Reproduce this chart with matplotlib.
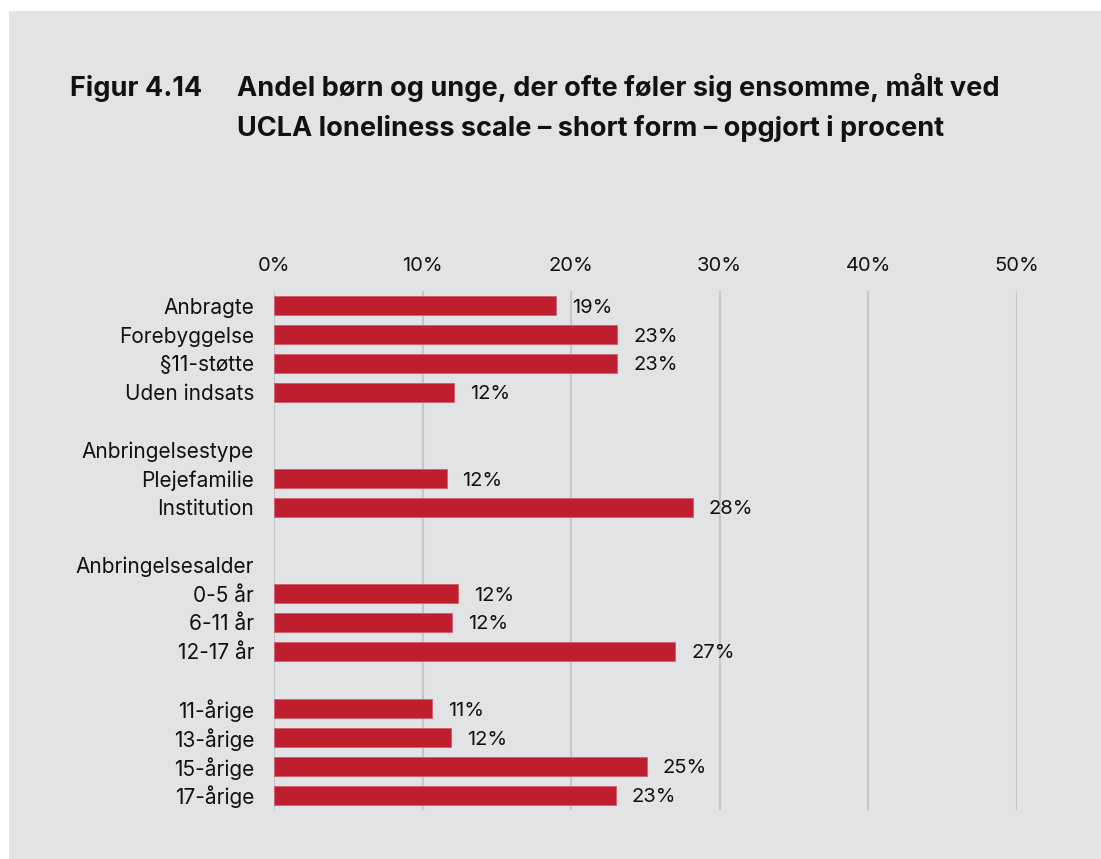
import matplotlib
matplotlib.use("Agg")
import matplotlib.pyplot as plt
from matplotlib.patches import Rectangle

plt.rcParams['font.family'] = ['Inter', 'DejaVu Sans']

# Rows from top to bottom; None marks a spacer or a group heading without a bar
labels = ["Anbragte", "Forebyggelse", "§11-støtte", "Uden indsats", "",
          "Anbringelsestype", "Plejefamilie", "Institution", "",
          "Anbringelsesalder", "0-5 år", "6-11 år", "12-17 år", "",
          "11-årige", "13-årige", "15-årige", "17-årige"]
values = [19.0, 23.1, 23.1, 12.1, None,
          None, 11.6, 28.2, None,
          None, 12.4, 12.0, 27.0, None,
          10.6, 11.9, 25.1, 23.0]
x_ticks = [0, 10, 20, 30, 40, 50]
x_tick_labels = ["0%", "10%", "20%", "30%", "40%", "50%"]

title_num = "Figur 4.14"
title_lines = ["Andel børn og unge, der ofte føler sig ensomme, målt ved",
               "UCLA loneliness scale – short form – opgjort i procent"]

BG = "#e2e3e5"
BAR = "#be1e2e"
GRID = "#c6c7c9"
TXT = "#111111"

W, H = 1101, 859
fig = plt.figure(figsize=(W / 100, H / 100), dpi=100, facecolor="white")

# grey panel behind everything
fig.patches.append(Rectangle((9 / W, 0), 1 - 9 / W, 1 - 11 / H,
                             transform=fig.transFigure, facecolor=BG,
                             edgecolor="none", zorder=-10))

TITLE_FS = 19.5
fig.text(70 / W, 1 - 96 / H, title_num, fontsize=TITLE_FS, fontweight="bold",
         color=TXT, ha="left", va="baseline")
for i, line in enumerate(title_lines):
    fig.text(237 / W, 1 - (96 + 40 * i) / H, line, fontsize=TITLE_FS,
             fontweight="bold", color=TXT, ha="left", va="baseline")

left, right = 274.3 / W, 1016.6 / W
top, bottom = 1 - 291 / H, 1 - 810 / H
ax = fig.add_axes([left, bottom, right - left, top - bottom], zorder=5)
ax.set_facecolor("none")

LABEL_FS = 15
VALUE_FS = 14.5

n = len(labels)
ypos = list(range(n))
for y, v in zip(ypos, values):
    if v is None:
        continue
    ax.barh(y, v, height=0.66, color=BAR, edgecolor="#d0636f",
            linewidth=0.7, zorder=3)
    ax.annotate(f"{v:.0f}%", xy=(v, y), xytext=(11.5, 0),
                textcoords="offset points", ha="left", va="center_baseline",
                fontsize=VALUE_FS, color=TXT)

ax.set_xlim(0, 50)
ax.set_ylim(n - 1 + 0.52, -0.52)

for xt in x_ticks:
    ax.axvline(xt, color=GRID, linewidth=1.5, zorder=1)

ax.xaxis.tick_top()
ax.set_xticks(x_ticks)
ax.set_xticklabels(x_tick_labels, fontsize=VALUE_FS, color=TXT)
ax.tick_params(axis="x", length=0, pad=11.5)

ax.set_yticks(ypos)
ax.set_yticklabels(labels, fontsize=LABEL_FS, color=TXT)
ax.tick_params(axis="y", length=0, pad=14.5)

for s in ax.spines.values():
    s.set_visible(False)

fig.savefig("out.png", dpi=100, facecolor=fig.get_facecolor())
